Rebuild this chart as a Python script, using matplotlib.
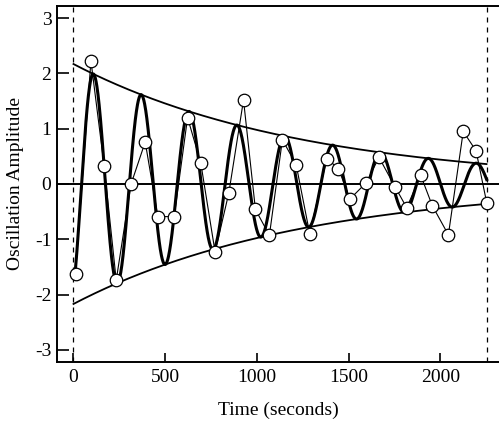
import numpy as np
import matplotlib
matplotlib.use("Agg")
import matplotlib.pyplot as plt

plt.rcParams["font.family"] = ["Liberation Serif", "DejaVu Serif"]
plt.rcParams["axes.unicode_minus"] = False

# measured points (time in s, amplitude)
t_data = [11, 95, 167, 233, 314, 391, 460, 549, 622, 694, 772, 847, 927, 992,
          1068, 1139, 1214, 1288, 1381, 1444, 1508, 1595, 1666, 1753, 1817,
          1893, 1956, 2044, 2125, 2195, 2253]
y_data = [-1.62, 2.23, 0.33, -1.74, 0.00, 0.76, -0.59, -0.59, 1.20, 0.38,
          -1.23, -0.16, 1.52, -0.46, -0.93, 0.80, 0.35, -0.90, 0.46, 0.28,
          -0.27, 0.02, 0.48, -0.05, -0.43, 0.16, -0.39, -0.92, 0.95, 0.60,
          -0.34]

# fitted damped oscillation parameters
amp0 = 2.17
tau = 1254.0
period = 261.0
t_peak = 109.0
t_start, t_end = 0, 2252

fig = plt.figure(figsize=(4.99, 4.22), dpi=100)
ax = fig.add_axes([0.1142, 0.1422, 0.8858, 0.8436])

tt = np.linspace(t_start, t_end, 600)
env = amp0 * np.exp(-tt / tau)
ax.plot(tt, env, color="black", lw=1.3)
ax.plot(tt, -env, color="black", lw=1.3)

tf = np.linspace(t_data[0], t_data[-1], 1500)
fit = amp0 * np.exp(-tf / tau) * np.cos(2 * np.pi * (tf - t_peak) / period)
ax.plot(tf, fit, color="black", lw=2.2)

ax.axhline(0, color="black", lw=1.4)
for xv in (t_start, t_end):
    ax.axvline(xv, color="black", lw=0.9, ls=(0, (4, 4)))

ax.plot(t_data, y_data, color="black", lw=0.8, marker="o", ms=9,
        mfc="white", mec="black", mew=0.9)

ax.set_xlim(-90, 2320)
ax.set_ylim(-3.22, 3.22)
ax.set_xticks([0, 500, 1000, 1500, 2000])
ax.set_yticks([-3, -2, -1, 0, 1, 2, 3])
ax.tick_params(direction="in", labelsize=14, width=1.2)
ax.tick_params(axis="y", length=8.5, pad=4)
ax.tick_params(axis="x", length=6.5, pad=5)
ax.spines["right"].set_visible(False)
for s in ("left", "top", "bottom"):
    ax.spines[s].set_linewidth(1.4)

ax.set_xlabel("Time (seconds)", fontsize=14, labelpad=11)
ax.set_ylabel("Oscillation Amplitude", fontsize=14, labelpad=8)

fig.savefig("out.png", dpi=100)
